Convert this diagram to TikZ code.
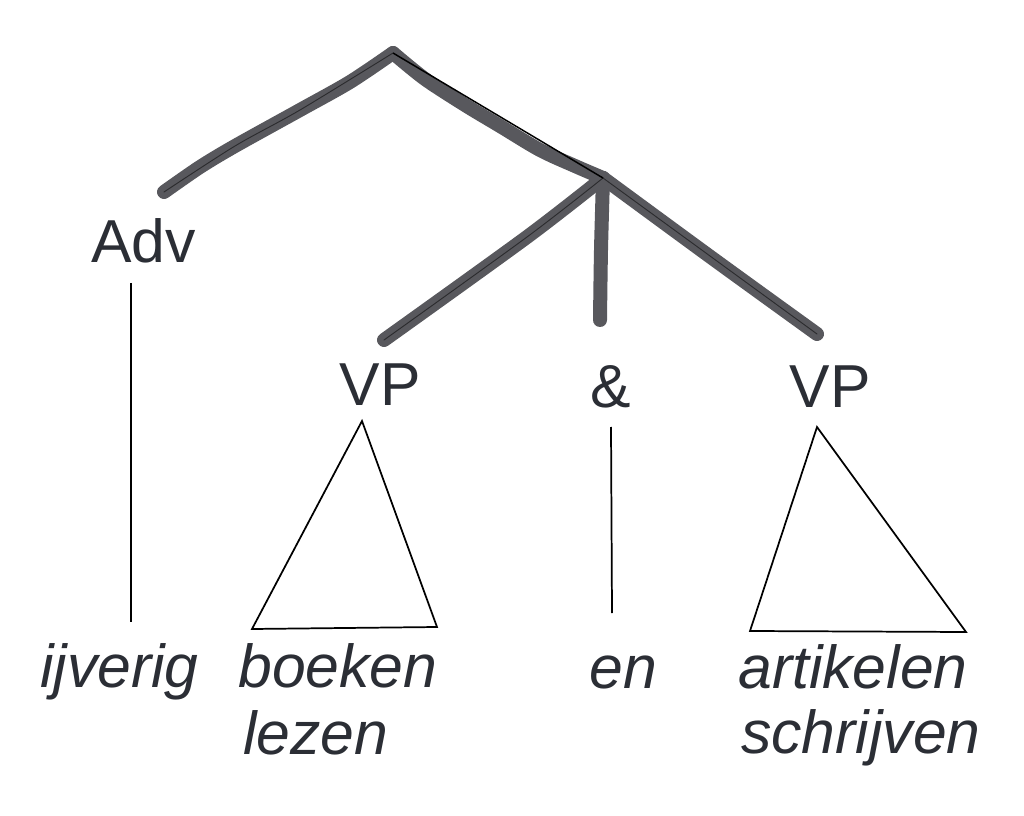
\documentclass[tikz,border=0pt]{standalone}
\usepackage{fontspec}
\setmainfont{Liberation Sans}
\definecolor{ink}{HTML}{2B2E35}
\definecolor{marker}{HTML}{58585D}
\begin{document}
\begin{tikzpicture}[x=0.75pt,y=-0.75pt,
  lbl/.style={font=\fontsize{45.5}{52}\selectfont, text=ink, inner sep=0pt, anchor=base},
  word/.style={font=\fontsize{45.5}{52}\selectfont\itshape, text=ink, inner sep=0pt, anchor=base west},
  branch/.style={draw=marker, line width=10.5pt, line cap=round, line join=round},
  pen/.style={draw=black, opacity=0.5, line width=0.7pt, line cap=round},
  thinline/.style={draw=black, line width=1.3pt, line join=miter}]
\useasboundingbox (0,0) rectangle (1024,816);

% tree points
\coordinate (top) at (393,53);
\coordinate (advend) at (164,192);
\coordinate (conj) at (603,178);
\coordinate (vpaend) at (384,340);
\coordinate (ampend) at (600,320);
\coordinate (vpbend) at (817,334);

% thick marker branches
\draw[branch] plot[smooth, tension=0.5] coordinates {(advend) (200,167) (235,146) (300,110) (350,82) (top)};
\draw[branch] plot[smooth, tension=0.5] coordinates {(top) (425,79) (465,105) (500,126) (540,150) (575,166) (conj)};
\draw[branch] plot[smooth, tension=0.5] coordinates {(conj) (527,237) (vpaend)};
\draw[branch] plot[smooth, tension=0.5] coordinates {(conj) (601,250) (ampend)};
\draw[branch] plot[smooth, tension=0.5] coordinates {(conj) (712,258) (vpbend)};

% pen lines inside the marker strokes
\draw[pen] plot[smooth, tension=0.5] coordinates {(advend) (235,146) (300,110) (top)};
\draw[pen] plot[smooth, tension=0.5] coordinates {(conj) (527,237) (vpaend)};
\draw[pen] (conj) -- (vpbend);
\draw[thinline, line width=1.1pt] (top) -- (conj);

% labels
\node[lbl] (Adv) at (143.5,263) {Adv};
\node[lbl] (VPa) at (380,406) {VP};
\node[lbl] (amp) at (611,407) {\&};
\node[lbl] (VPb) at (830,407) {VP};

% words
\node[word] (w1) at (40,687) {ijverig};
\node[word] (w2) at (238,687) {boeken};
\node[word] (w2b) at (243,754) {lezen};
\node[word] (w3) at (589,688) {en};
\node[word] (w4) at (738,688) {artikelen};
\node[word] (w4b) at (741,753) {schrijven};

% lines and triangles
\coordinate (advtop) at (131,283);
\coordinate (advbot) at (131,622);
\draw[thinline] (advtop) -- (advbot);
\coordinate (amptop) at (611,427);
\coordinate (ampbot) at (612,613);
\draw[thinline] (amptop) -- (ampbot);
\coordinate (ta) at (362,421);
\coordinate (tar) at (437,627);
\coordinate (tal) at (252,629);
\draw[thinline] (ta) -- (tar) -- (tal) -- cycle;
\coordinate (tb) at (817,427);
\coordinate (tbr) at (966,632);
\coordinate (tbl) at (750,631);
\draw[thinline] (tb) -- (tbr) -- (tbl) -- cycle;
\end{tikzpicture}
\end{document}
